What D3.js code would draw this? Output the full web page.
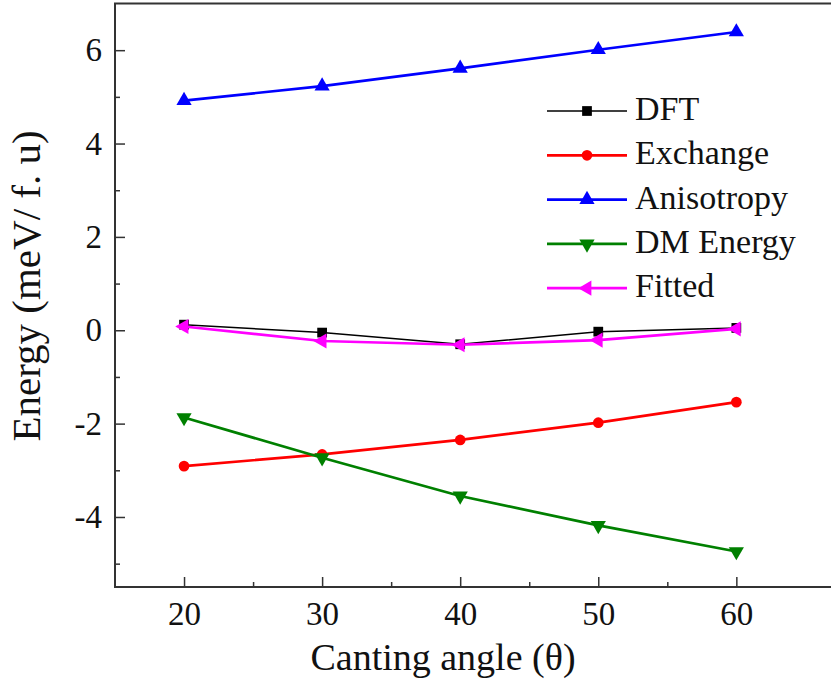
<!DOCTYPE html>
<html>
<head>
<meta charset="utf-8">
<script src="https://cdn.jsdelivr.net/npm/d3@7"></script>
<style>
    body { margin: 0; background: #fff; }
</style>
</head>
<body>
<div id="chart"></div>
<script>
var serif = "'Liberation Serif', 'Times New Roman', Times, serif";

// canting angle (deg)
var angles = [20, 30, 40, 50, 60];

// energies in meV / f.u.
var dft = [0.12, -0.05, -0.30, -0.03, 0.05];
var exchange = [-2.91, -2.66, -2.35, -1.98, -1.54];
var anisotropy = [4.92, 5.23, 5.61, 6.01, 6.39];
var dmEnergy = [-1.87, -2.73, -3.55, -4.18, -4.74];
var fitted = [0.08, -0.23, -0.31, -0.21, 0.03];

var seriesNames = ["DFT", "Exchange", "Anisotropy", "DM Energy", "Fitted"];

var xTicks = [20, 30, 40, 50, 60];
var yTicks = [-4, -2, 0, 2, 4, 6];

var full_width = 831,
    full_height = 689;

var margin = { top: 3.5, right: -2, bottom: 102, left: 115 };
var width = full_width - margin.left - margin.right;
var height = full_height - margin.top - margin.bottom;

var series = [
    { name: seriesNames[0], values: dft, color: "#000000", symbol: d3.symbolSquare, size: 95, rotate: 0, lw: 1.5 },
    { name: seriesNames[1], values: exchange, color: "#ff0000", symbol: d3.symbolCircle, size: 90, rotate: 0, lw: 2.7 },
    { name: seriesNames[2], values: anisotropy, color: "#0000ff", symbol: d3.symbolTriangle, size: 100, rotate: 0, lw: 2.7 },
    { name: seriesNames[3], values: dmEnergy, color: "#008000", symbol: d3.symbolTriangle, size: 100, rotate: 180, lw: 2.7 },
    { name: seriesNames[4], values: fitted, color: "#ff00ff", symbol: d3.symbolTriangle, size: 100, rotate: -90, lw: 2.7 }
];

var x = d3.scaleLinear()
    .domain([15, 67])
    .range([0, width]);

var y = d3.scaleLinear()
    .domain([-5.5, 7])
    .range([height, 0]);

var svg = d3.select("#chart")
    .append("svg")
    .attr("width", full_width)
    .attr("height", full_height)
    .style("display", "block");

var g = svg.append("g")
    .attr("transform", "translate(" + margin.left + "," + margin.top + ")");

// frame
g.append("rect")
    .attr("x", 0)
    .attr("y", 0)
    .attr("width", width)
    .attr("height", height)
    .attr("fill", "none")
    .attr("stroke", "#333")
    .attr("stroke-width", 2);

// X Axis (ticks inward)
var xAxis = g.append("g")
    .attr("transform", "translate(0," + height + ")")
    .call(d3.axisBottom(x).tickValues(xTicks).tickSize(-10).tickPadding(15).tickFormat(d3.format("d")));
g.append("g")
    .attr("transform", "translate(0," + height + ")")
    .call(d3.axisBottom(x).tickValues([25, 35, 45, 55]).tickSize(-5).tickFormat(""));

// Y Axis
var yAxis = g.append("g")
    .call(d3.axisLeft(y).tickValues(yTicks).tickSize(-10).tickPadding(13).tickFormat(function(d) { return d < 0 ? "-" + Math.abs(d) : d; }));
g.append("g")
    .call(d3.axisLeft(y).tickValues([-5, -3, -1, 1, 3, 5]).tickSize(-5).tickFormat(""));

g.selectAll(".domain").remove();
g.selectAll(".tick line").attr("stroke", "#333").attr("stroke-width", 1.5);
g.selectAll(".tick text")
    .attr("fill", "#111")
    .attr("font-size", 33)
    .attr("font-family", serif);

// lines and markers
var line = d3.line()
    .x(function(d, i) { return x(angles[i]); })
    .y(function(d) { return y(d); });

series.forEach(function(s) {
    g.append("path")
        .datum(s.values)
        .attr("fill", "none")
        .attr("stroke", s.color)
        .attr("stroke-width", s.lw)
        .attr("d", line);

    g.selectAll(null)
        .data(s.values)
        .enter()
        .append("path")
        .attr("d", d3.symbol().type(s.symbol).size(s.size))
        .attr("fill", s.color)
        .attr("transform", function(d, i) {
            return "translate(" + x(angles[i]) + "," + y(d) + ") rotate(" + s.rotate + ")";
        });
});

// legend
var legend = svg.append("g")
    .attr("transform", "translate(547,111)");

var row = legend.selectAll("g")
    .data(series)
    .enter()
    .append("g")
    .attr("transform", function(d, i) { return "translate(0," + (i * 44.3) + ")"; });

row.append("line")
    .attr("x1", 0)
    .attr("x2", 80)
    .attr("stroke", function(d) { return d.color; })
    .attr("stroke-width", function(d) { return d.lw; });

row.append("path")
    .attr("d", function(d) { return d3.symbol().type(d.symbol).size(d.size)(); })
    .attr("fill", function(d) { return d.color; })
    .attr("transform", function(d) { return "translate(40,0) rotate(" + d.rotate + ")"; });

row.append("text")
    .attr("x", 88)
    .attr("y", 9)
    .attr("font-family", serif)
    .attr("font-size", 34)
    .attr("fill", "#111")
    .text(function(d) { return d.name; });

// X Axis label
svg.append("text")
    .attr("x", 443)
    .attr("y", 670)
    .attr("text-anchor", "middle")
    .attr("font-family", serif)
    .attr("font-size", 38)
    .attr("fill", "#111")
    .text("Canting angle (θ)");

// Y Axis label
svg.append("text")
    .attr("transform", "translate(40,286) rotate(-90)")
    .attr("text-anchor", "middle")
    .attr("font-family", serif)
    .attr("font-size", 41)
    .attr("fill", "#111")
    .text("Energy (meV/ f. u)");
</script>
</body>
</html>
